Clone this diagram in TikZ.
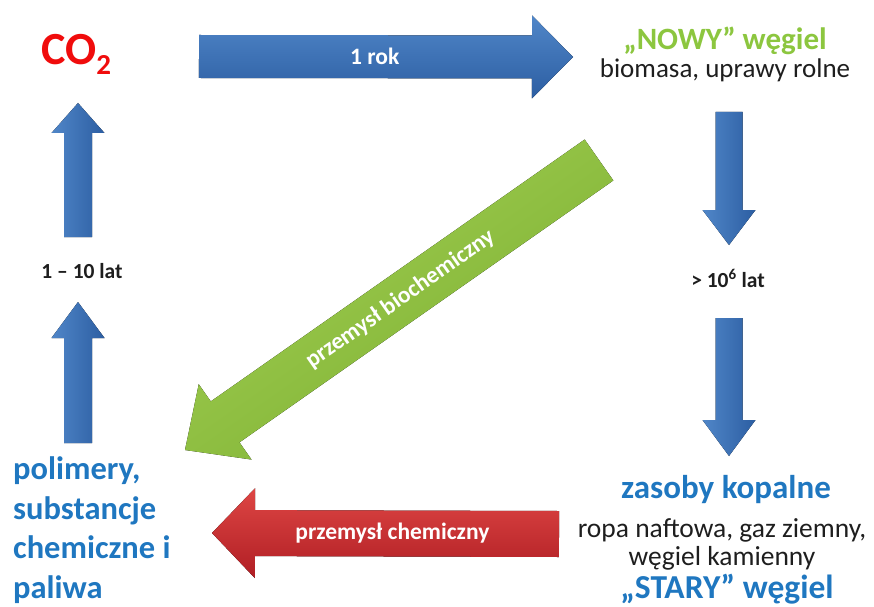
\documentclass[tikz,border=0pt]{standalone}
\usepackage{fontspec}
\setmainfont{Carlito}
\usetikzlibrary{calc}

\definecolor{arrowblue}{RGB}{80,134,200}
\definecolor{arrowbluedark}{RGB}{44,94,162}
\definecolor{arrowred}{RGB}{222,70,68}
\definecolor{arrowreddark}{RGB}{176,30,36}
\definecolor{arrowgreen}{RGB}{162,206,82}
\definecolor{arrowgreendark}{RGB}{124,176,50}
\definecolor{textgreen}{RGB}{140,198,63}
\definecolor{textblue}{RGB}{31,119,192}
\definecolor{textred}{RGB}{240,12,12}
\definecolor{textgray}{RGB}{30,30,30}

% block arrow: style, from, to, half shaft, half head, head length
\newcommand{\blockarrow}[6]{
	\coordinate (hb) at ($(#3)!#6!(#2)$);
	\fill[#1] ($(#2)!#4!90:(#3)$) -- ($(hb)!#4!90:(#3)$) -- ($(hb)!#5!90:(#3)$) -- (#3)
		-- ($(hb)!#5!-90:(#3)$) -- ($(hb)!#4!-90:(#3)$) -- ($(#2)!#4!-90:(#3)$) -- cycle;
}

\begin{document}
\begin{tikzpicture}[x=1pt, y=1pt,
		bluearrow/.style={top color=arrowblue, bottom color=arrowbluedark},
		bluevarrow/.style={left color=arrowblue, right color=arrowbluedark},
		redarrow/.style={top color=arrowred, bottom color=arrowreddark},
		greenarrow/.style={top color=arrowgreen, bottom color=arrowgreendark, shading angle=35},
		lbl/.style={font=\bfseries\fontsize{23.5}{28}\selectfont, text=white, inner sep=0},
		timelbl/.style={font=\bfseries\fontsize{21.5}{26}\selectfont, text=textgray, inner sep=0, anchor=base},
		txt/.style={font=\fontsize{27.5}{32}\selectfont, text=textgray, inner sep=0, anchor=base},
		head/.style={font=\bfseries\fontsize{32.5}{38}\selectfont, inner sep=0, anchor=base},
		]
		
		\useasboundingbox (0,0) rectangle (874,606);
		
		\node (co2) [anchor=base west, inner sep=0, text=textred, font=\bfseries\fontsize{46}{52}\selectfont]
			at (41,541) {CO\raisebox{-10pt}{\fontsize{29}{32}\selectfont 2}};
		
		\node (nowy) [head, text=textgreen, font=\bfseries\fontsize{31}{36}\selectfont] at (725,556) {„NOWY” węgiel};
		\node (biomasa) [txt, font=\fontsize{27}{32}\selectfont] at (725,528) {biomasa, uprawy rolne};
		
		\node (zasoby) [head, font=\bfseries\fontsize{33}{38}\selectfont, text=textblue] at (726,108) {zasoby kopalne};
		\node (ropa) [txt] at (722,69) {ropa naftowa, gaz ziemny,};
		\node (wegiel) [txt] at (722,41) {węgiel kamienny};
		\node (stary) [head, text=textblue, font=\bfseries\fontsize{33.5}{38}\selectfont] at (727,8) {„STARY” węgiel};
		
		\node (polimery) [head, anchor=base west, text=textblue, align=left, font=\bfseries\fontsize{32.5}{39.5}\selectfont]
			at (13,8) {polimery,\\substancje\\chemiczne i\\paliwa};
		
		\node (lat1) [timelbl] at (82,328) {1 – 10 lat};
		\node (lat2) [timelbl] at (728,319) {> 10\textsuperscript{6} lat};
		
		% arrow ends
		\coordinate (rokA) at (199,549.5);
		\coordinate (rokB) at (573,549);
		\coordinate (upA) at (78,369);
		\coordinate (upB) at (78,503);
		\coordinate (lowA) at (78,163);
		\coordinate (lowB) at (78,304);
		\coordinate (downA) at (729,494);
		\coordinate (downB) at (729,361);
		\coordinate (fossA) at (729,288);
		\coordinate (fossB) at (729,150);
		\coordinate (chemA) at (559,72);
		\coordinate (chemB) at (212,73);
		\coordinate (bioA) at (599,446);
		\coordinate (bioB) at (185,156);
		
		\blockarrow{bluearrow}{rokA}{rokB}{21.5pt}{41.5pt}{41pt}
		\blockarrow{bluevarrow}{upA}{upB}{14pt}{26.5pt}{30pt}
		\blockarrow{bluevarrow}{lowA}{lowB}{14pt}{26.5pt}{36pt}
		\blockarrow{bluevarrow}{downA}{downB}{13.5pt}{26.5pt}{35pt}
		\blockarrow{bluevarrow}{fossA}{fossB}{13.5pt}{26.5pt}{36pt}
		\blockarrow{redarrow}{chemA}{chemB}{23pt}{45pt}{43pt}
		\blockarrow{greenarrow}{bioA}{bioB}{25pt}{46pt}{49pt}
		
		\path (rokA) -- (rokB) node[lbl, pos=0.47] (rok) {1 rok};
		\path (chemA) -- (chemB) node[lbl, pos=0.48] (chem) {przemysł chemiczny};
		\path (bioA) -- (bioB) node[lbl, pos=0.48, sloped] (bio) {przemysł biochemiczny};
		
	\end{tikzpicture}
\end{document}
